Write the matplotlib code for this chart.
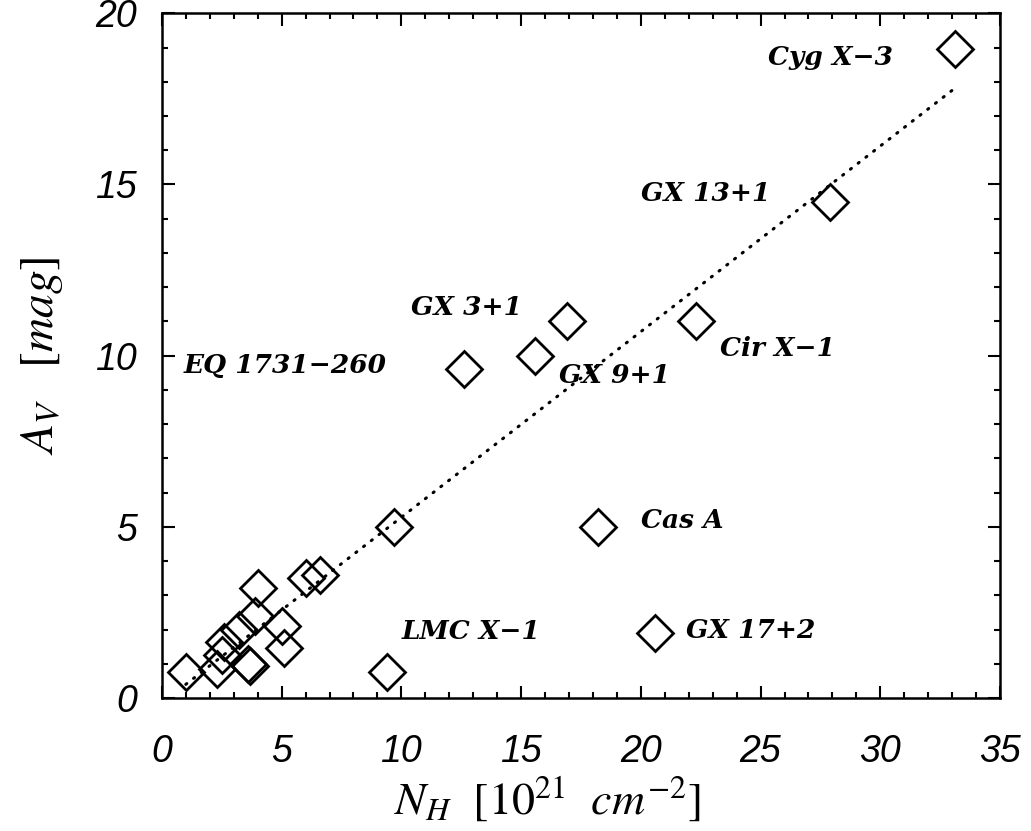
import matplotlib
matplotlib.use('Agg')
import matplotlib.pyplot as plt
from matplotlib.ticker import MultipleLocator

# N_H [1e21 cm^-2] and A_V [mag]
nh = [1.0, 2.3, 2.5, 2.6, 3.2, 3.6, 3.7, 3.9, 4.0, 5.0, 5.1, 6.0, 6.6,
      9.4, 9.7, 12.6, 15.6, 16.9, 18.2, 20.6, 22.3, 27.9, 33.1]
av = [0.75, 0.85, 1.25, 1.65, 2.0, 1.0, 0.95, 2.4, 3.2, 2.1, 1.45, 3.5, 3.6,
      0.75, 5.0, 9.6, 10.0, 11.0, 5.0, 1.9, 11.0, 14.5, 18.95]

# fit line (end points)
fit_x = [1.0, 33.0]
fit_y = [0.4, 17.75]

# source names and where they sit
names = ['Cyg X\u22123', 'GX 13+1', 'Cir X\u22121', 'GX 3+1', 'EQ 1731\u2212260',
         'GX 9+1', 'Cas A', 'GX 17+2', 'LMC X\u22121']
name_x = [25.3, 20.0, 23.3, 10.4, 0.9, 16.6, 20.0, 21.9, 10.0]
name_y = [18.7, 14.75, 10.2, 11.4, 9.72, 9.43, 5.2, 1.98, 1.93]

plt.rcParams['mathtext.fontset'] = 'stix'

fig = plt.figure(figsize=(10.31, 8.31), dpi=100)
ax = fig.add_axes([0.157, 0.160, 0.813, 0.824])

ax.plot(fit_x, fit_y, color='black', lw=2.2, linestyle=(0, (0.4, 2.8)),
        dash_capstyle='round')
ax.plot(nh, av, 'D', ms=18.5, mfc='none', mec='black', mew=2.0)

for n, x, y in zip(names, name_x, name_y):
    ax.text(x, y, n, fontsize=19, family='DejaVu Serif', style='italic',
            weight='bold', va='center', ha='left')

ax.set_xlim(0, 35)
ax.set_ylim(0, 20)
ax.xaxis.set_major_locator(MultipleLocator(5))
ax.xaxis.set_minor_locator(MultipleLocator(1))
ax.yaxis.set_major_locator(MultipleLocator(5))
ax.yaxis.set_minor_locator(MultipleLocator(1))
ax.tick_params(which='both', direction='in', top=True, right=True, width=1.5)
ax.tick_params(which='major', length=9)
ax.tick_params(which='minor', length=4.5)
ax.tick_params(axis='x', which='major', pad=26)
ax.tick_params(axis='y', which='major', pad=18)
for lab in ax.get_xticklabels() + ax.get_yticklabels():
    lab.set_family('Liberation Sans')
    lab.set_style('italic')
    lab.set_fontsize(27)
for s in ax.spines.values():
    s.set_linewidth(1.8)

ax.set_xlabel(r'$N_H\ \ [10^{21}\ \ cm^{-2}]$', fontsize=33, labelpad=2)
ax.xaxis.set_label_coords(0.46, -0.113)
ax.set_ylabel(r'$A_V\ \ \ [mag]$', fontsize=34, labelpad=22)

fig.savefig('out.png', dpi=100)
